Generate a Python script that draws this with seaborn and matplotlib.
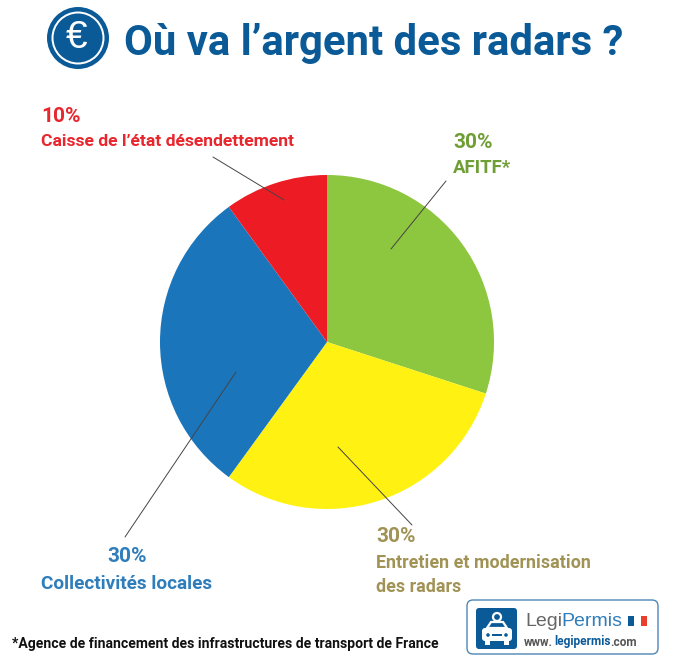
import matplotlib
matplotlib.use('Agg')
import matplotlib.pyplot as plt
import seaborn as sns
from matplotlib.patches import Circle, FancyBboxPatch, Polygon, Rectangle

# Data
labels = ['AFITF*', 'Entretien et modernisation\ndes radars', 'Collectivités locales',
          'Caisse de l’état désendettement']
values = [30, 30, 30, 10]
pct_labels = ['30%', '30%', '30%', '10%']
pie_colors = ['#8dc63f', '#fff212', '#1b75bb', '#ed1c24']
text_colors = ['#6f9e35', '#a09355', '#2f7dbb', '#e8262d']

title = 'Où va l’argent des radars ?'
note = '*Agence de financement des infrastructures de transport de France'
blue = '#0b5a98'

W, H = 680, 664
sns.set_theme(style='white')
plt.rcParams['font.family'] = ['Roboto', 'Liberation Sans', 'DejaVu Sans']


def py(y):
    return H - y


fig = plt.figure(figsize=(6.8, 6.64), dpi=100, facecolor='white')
ax = fig.add_axes([0, 0, 1, 1])
ax.set_xlim(0, W)
ax.set_ylim(0, H)
ax.axis('off')

# pie, clockwise from the top
ax.pie(values, colors=pie_colors, startangle=90, counterclock=False,
       center=(327, py(342)), radius=167, frame=False,
       wedgeprops={'linewidth': 0})
ax.set_xlim(0, W)
ax.set_ylim(0, H)
ax.set_aspect('equal')

# leader lines
ax.plot([213, 284], [py(157), py(200)], color='#444444', lw=0.7)
ax.plot([446, 391], [py(181), py(249)], color='#444444', lw=0.7)
ax.plot([338, 412], [py(447), py(525)], color='#444444', lw=0.7)
ax.plot([236, 125], [py(372), py(537)], color='#444444', lw=0.7)

# labels
ax.text(453, py(143), pct_labels[0], color=text_colors[0], fontsize=15, fontweight='bold', va='center')
ax.text(453, py(168), labels[0], color=text_colors[0], fontsize=13.4, fontweight='bold', va='center')
ax.text(376, py(537), pct_labels[1], color=text_colors[1], fontsize=15, fontweight='bold', va='center')
ax.text(376, py(575), labels[1], color=text_colors[1], fontsize=12.9, fontweight='bold', va='center',
        linespacing=1.45)
ax.text(127, py(557), pct_labels[2], color=text_colors[2], fontsize=15, fontweight='bold', va='center', ha='center')
ax.text(127, py(584), labels[2], color=text_colors[2], fontsize=13.7, fontweight='bold', va='center', ha='center')
ax.text(41, py(117), pct_labels[3], color=text_colors[3], fontsize=15, fontweight='bold', va='center')
ax.text(41, py(142), labels[3], color=text_colors[3], fontsize=12.6, fontweight='bold', va='center')

# title + euro badge
ax.text(124, py(55), title, color=blue, fontsize=30.2, fontweight='bold', va='baseline')
ax.add_patch(Circle((78, py(38)), 31, color=blue, lw=0))
ax.add_patch(Circle((78, py(38)), 26.5, color='white', lw=0))
ax.add_patch(Circle((78, py(38)), 24.5, color=blue, lw=0))
ax.text(77, py(38), '€', color='white', fontsize=28, va='center', ha='center', family='Liberation Sans')

# footnote
ax.text(12, py(644), note, color='#111111', fontsize=10.05, fontweight='bold', va='center')

# logo box
ax.add_patch(FancyBboxPatch((467, py(654)), 191, 54, boxstyle='round,pad=0,rounding_size=6',
                            fc='white', ec='#4f86b5', lw=1))
ax.add_patch(FancyBboxPatch((476, py(649)), 41, 41, boxstyle='round,pad=0,rounding_size=3',
                            fc=blue, ec='none'))
ax.add_patch(Circle((497, py(617)), 4, fc='none', ec='white', lw=1.6))
ax.add_patch(Polygon([(487, py(628)), (491, py(622)), (503, py(622)), (507, py(628))],
                     fc='none', ec='white', lw=1.6))
ax.add_patch(FancyBboxPatch((482, py(641)), 30, 13, boxstyle='round,pad=0,rounding_size=3',
                            fc='white', ec='none'))
ax.add_patch(Rectangle((485, py(645)), 5, 5, fc='white', ec='none'))
ax.add_patch(Rectangle((504, py(645)), 5, 5, fc='white', ec='none'))
ax.add_patch(Circle((488, py(635)), 1.8, fc=blue, ec='none'))
ax.add_patch(Circle((506, py(635)), 1.8, fc=blue, ec='none'))
ax.add_patch(Rectangle((492, py(636)), 10, 2, fc=blue, ec='none'))
ax.text(525, py(621), 'Legi', color='#666666', fontsize=14, va='center', family='Liberation Sans')
ax.text(561, py(621), 'Permis', color='#2f7dbb', fontsize=14, va='center', family='Liberation Sans')
ax.text(524, py(642), 'www.', color='#555555', fontsize=8.4, fontweight='bold', va='center')
ax.text(554, py(642), 'legipermis', color=blue, fontsize=8.6, fontweight='bold', va='center')
ax.text(610, py(642), '.com', color='#555555', fontsize=8.6, fontweight='bold', va='center')
ax.add_patch(Rectangle((628, py(626)), 6, 10, fc=blue, ec='none'))
ax.add_patch(Rectangle((641, py(626)), 6, 10, fc='#e8402a', ec='none'))

fig.savefig('out.png', dpi=100, facecolor='white')
plt.close()
